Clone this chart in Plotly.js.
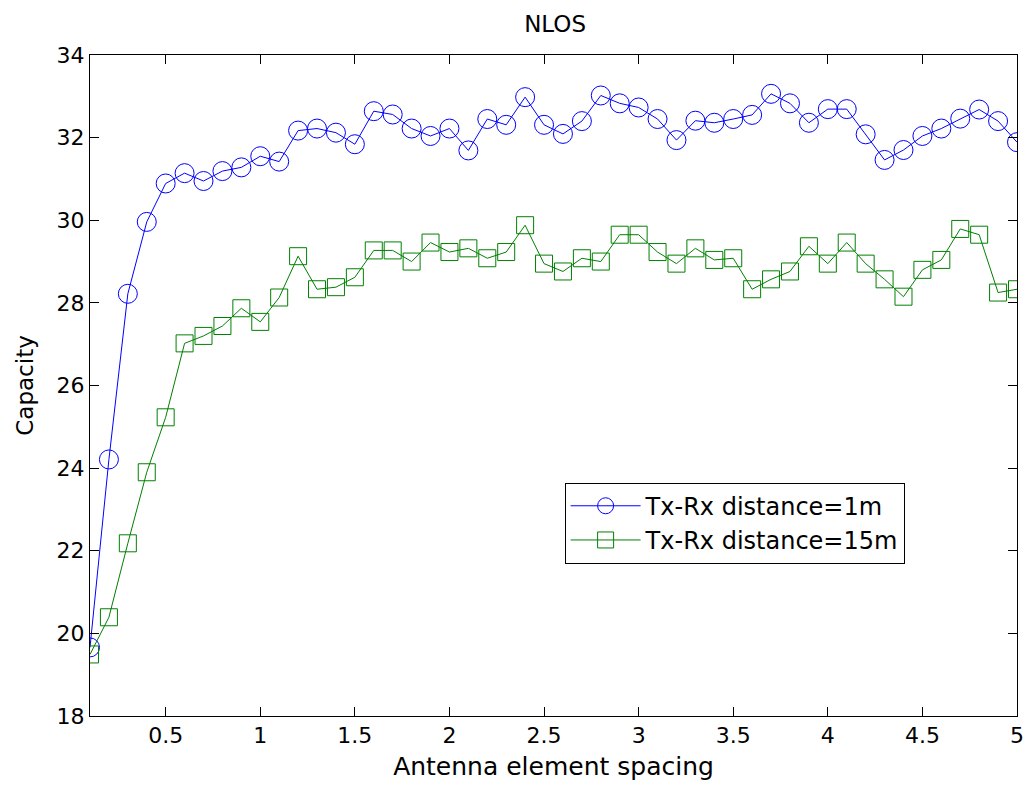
<!DOCTYPE html>
<html>
<head>
<meta charset="utf-8">
<script src="https://cdn.plot.ly/plotly-3.0.1.min.js"></script>
<style>
  html, body { margin: 0; padding: 0; background: #ffffff; }
  #chart { width: 1028px; height: 787px; }
</style>
</head>
<body>
<div id="chart"></div>
<script>
// Antenna element spacing (x)
const spacing = [0.1, 0.2, 0.3, 0.4, 0.5, 0.6, 0.7, 0.8, 0.9, 1.0,
                 1.1, 1.2, 1.3, 1.4, 1.5, 1.6, 1.7, 1.8, 1.9, 2.0,
                 2.1, 2.2, 2.3, 2.4, 2.5, 2.6, 2.7, 2.8, 2.9, 3.0,
                 3.1, 3.2, 3.3, 3.4, 3.5, 3.6, 3.7, 3.8, 3.9, 4.0,
                 4.1, 4.2, 4.3, 4.4, 4.5, 4.6, 4.7, 4.8, 4.9, 5.0];

// Capacity, Tx-Rx distance = 1m
const capacity1m = [19.66, 24.21, 28.22, 29.96, 30.89, 31.14, 30.95, 31.19, 31.28, 31.55,
                    31.42, 32.17, 32.22, 32.12, 31.84, 32.64, 32.56, 32.22, 32.04, 32.22,
                    31.69, 32.45, 32.31, 32.98, 32.31, 32.09, 32.40, 33.02, 32.83, 32.73,
                    32.45, 31.94, 32.41, 32.36, 32.45, 32.55, 33.06, 32.83, 32.36, 32.69,
                    32.69, 32.08, 31.46, 31.70, 32.04, 32.22, 32.46, 32.68, 32.40, 31.89];

// Capacity, Tx-Rx distance = 15m
const capacity15m = [19.49, 20.39, 22.18, 23.90, 25.23, 27.02, 27.20, 27.44, 27.87, 27.54,
                     28.13, 29.13, 28.33, 28.38, 28.62, 29.27, 29.27, 29.00, 29.46, 29.23,
                     29.32, 29.08, 29.23, 29.88, 28.95, 28.76, 29.08, 29.00, 29.65, 29.65,
                     29.23, 28.95, 29.32, 29.04, 29.08, 28.33, 28.57, 28.76, 29.37, 28.95,
                     29.46, 28.95, 28.57, 28.15, 28.80, 29.04, 29.79, 29.65, 28.25, 28.33];

const seriesNames = ['Tx-Rx distance=1m', 'Tx-Rx distance=15m'];
const xTicks = [0.5, 1, 1.5, 2, 2.5, 3, 3.5, 4, 4.5, 5];
const yTicks = [18, 20, 22, 24, 26, 28, 30, 32, 34];

const FONT = 'DejaVu Sans, Arial, sans-serif';

const traces = [
  {
    x: spacing, y: capacity1m, name: seriesNames[0],
    type: 'scatter', mode: 'lines+markers',
    line: { color: '#0000ff', width: 1 },
    marker: { symbol: 'circle-open', size: 19, color: '#0000ff', line: { width: 1, color: '#0000ff' } }
  },
  {
    x: spacing, y: capacity15m, name: seriesNames[1],
    type: 'scatter', mode: 'lines+markers',
    line: { color: '#008000', width: 1 },
    marker: { symbol: 'square-open', size: 17, color: '#008000', line: { width: 1, color: '#008000' } }
  }
];

const layout = {
  width: 1028, height: 787,
  margin: { l: 90, r: 11, t: 55, b: 71 },
  paper_bgcolor: '#ffffff', plot_bgcolor: '#ffffff',
  font: { family: FONT, size: 22, color: '#000000' },
  title: { text: 'NLOS', font: { family: FONT, size: 23, color: '#000' }, x: 0.54, xanchor: 'center', y: 0.97, yanchor: 'middle' },
  xaxis: {
    range: [0.1, 5], tickvals: xTicks, ticktext: xTicks.map(String),
    showgrid: false, zeroline: false,
    showline: true, linecolor: '#000', linewidth: 1, mirror: 'ticks',
    ticks: 'inside', ticklen: 9, tickcolor: '#000', tickwidth: 1,
    tickfont: { family: FONT, size: 22, color: '#000' },
    title: { text: 'Antenna element spacing', font: { family: FONT, size: 25, color: '#000' }, standoff: 10 }
  },
  yaxis: {
    range: [18, 34], tickvals: yTicks, ticktext: yTicks.map(String),
    showgrid: false, zeroline: false,
    showline: true, linecolor: '#000', linewidth: 1, mirror: 'ticks',
    ticks: 'inside', ticklen: 9, tickcolor: '#000', tickwidth: 1,
    tickfont: { family: FONT, size: 22, color: '#000' },
    title: { text: 'Capacity', font: { family: FONT, size: 23, color: '#000' }, standoff: 16 }
  },
  showlegend: true,
  legend: {
    x: 0.512, y: 0.353, xanchor: 'left', yanchor: 'top',
    bgcolor: '#ffffff', bordercolor: '#000', borderwidth: 1,
    font: { family: FONT, size: 24, color: '#000' },
    itemwidth: 70, tracegroupgap: 0
  }
};

Plotly.newPlot('chart', traces, layout, { displayModeBar: false, staticPlot: true });
</script>
</body>
</html>
